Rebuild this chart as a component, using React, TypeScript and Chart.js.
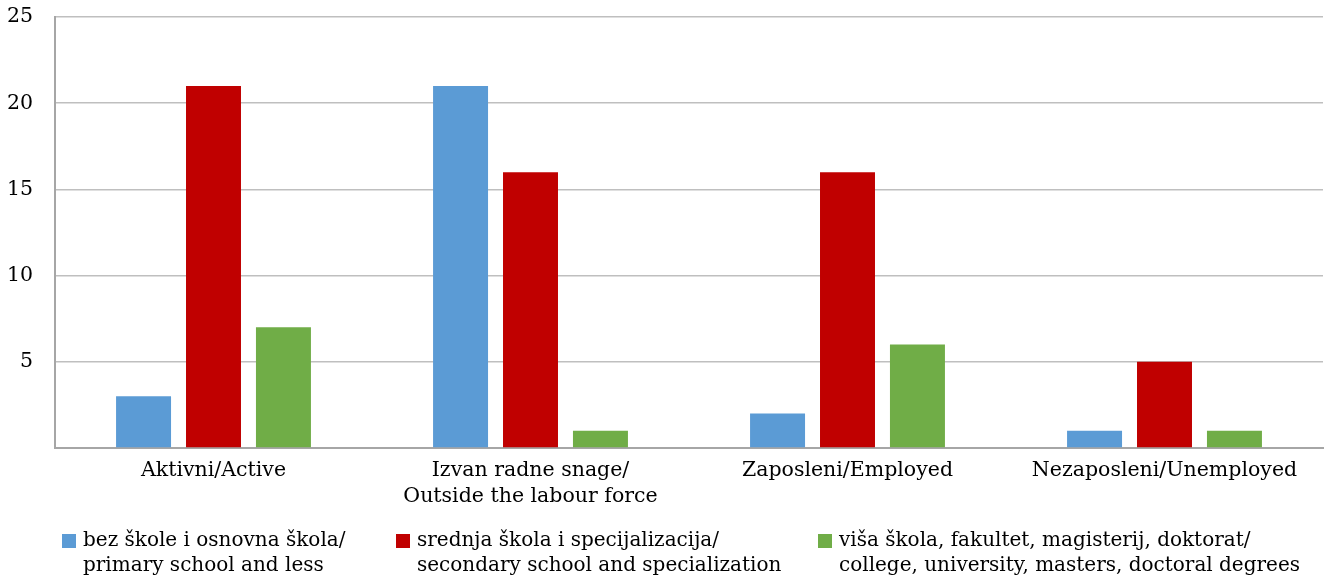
import React, { useEffect, useRef } from "react";
import { Chart, registerables } from "chart.js";

Chart.register(...registerables);

const categories: string[][] = [
  ["Aktivni/Active"],
  ["Izvan radne snage/", "Outside the labour force"],
  ["Zaposleni/Employed"],
  ["Nezaposleni/Unemployed"],
];

const seriesNames: string[][] = [
  ["bez škole i osnovna škola/", "primary school and less"],
  ["srednja škola i specijalizacija/", "secondary school and specialization"],
  ["viša škola, fakultet, magisterij, doktorat/", "college, university, masters, doctoral degrees"],
];

const primaryValues = [3, 21, 2, 1];
const secondaryValues = [21, 16, 16, 5];
const higherValues = [7, 1, 6, 1];

const colors = ["#5B9BD5", "#C00000", "#70AD47"];

const FONT = "'DejaVu Serif', serif";

const legendX = [62, 396, 818];

const legendPlugin = {
  id: "customLegend",
  afterDraw(chart: any) {
    const ctx = chart.ctx;
    ctx.save();
    ctx.font = `20px ${FONT}`;
    ctx.textBaseline = "middle";
    ctx.textAlign = "left";
    const y1 = 541;
    const lh = 25;
    chart.data.datasets.forEach((ds: any, i: number) => {
      const x = legendX[i];
      const lines: string[] = seriesNames[i];
      ctx.fillStyle = ds.backgroundColor;
      ctx.fillRect(x, y1 - 7, 14, 14);
      ctx.fillStyle = "#000";
      lines.forEach((ln, j) => {
        ctx.fillText(ln, x + 21, y1 + j * lh);
      });
    });
    ctx.restore();
  },
};

export default function App() {
  const ref = useRef<HTMLCanvasElement>(null);
  useEffect(() => {
    if (!ref.current) return;
    const chart = new Chart(ref.current, {
      type: "bar",
      data: {
        labels: categories as any,
        datasets: [
          { label: seriesNames[0].join(" "), data: primaryValues, backgroundColor: colors[0] },
          { label: seriesNames[1].join(" "), data: secondaryValues, backgroundColor: colors[1] },
          { label: seriesNames[2].join(" "), data: higherValues, backgroundColor: colors[2] },
        ],
      },
      options: {
        animation: false,
        responsive: false,
        maintainAspectRatio: false,
        layout: { padding: { top: 17, right: 3, bottom: 52, left: 0 } },
        datasets: { bar: { categoryPercentage: 0.662, barPercentage: 0.786 } },
        plugins: { legend: { display: false }, tooltip: { enabled: false } },
        scales: {
          x: {
            grid: { display: false, drawTicks: false },
            border: { display: true, color: "#a6a6a6", width: 2 },
            ticks: {
              color: "#000",
              padding: 10,
              maxRotation: 0,
              autoSkip: false,
              font: { family: FONT, size: 20.5, lineHeight: 1.27 },
            },
            afterFit(scale: any) {
              scale.height = 80;
            },
          },
          y: {
            min: 0,
            max: 25,
            grid: { color: "#bfbfbf", lineWidth: 1.5, drawTicks: false },
            border: { display: true, color: "#a6a6a6", width: 2 },
            ticks: {
              stepSize: 5,
              color: "#000",
              padding: 22,
              font: { family: FONT, size: 20.5 },
              callback: (v: any) => (v === 0 ? "" : String(v)),
            },
            afterFit(scale: any) {
              scale.width = 55;
              scale.paddingTop = 0;
              scale.paddingBottom = 0;
            },
          },
        },
      },
      plugins: [legendPlugin],
    });
    return () => chart.destroy();
  }, []);
  return (
    <div style={{ position: "fixed", left: 0, top: 0, width: 1326, height: 580, background: "#fff" }}>
      <canvas ref={ref} width={1326} height={580} style={{ width: 1326, height: 580 }} />
    </div>
  );
}
